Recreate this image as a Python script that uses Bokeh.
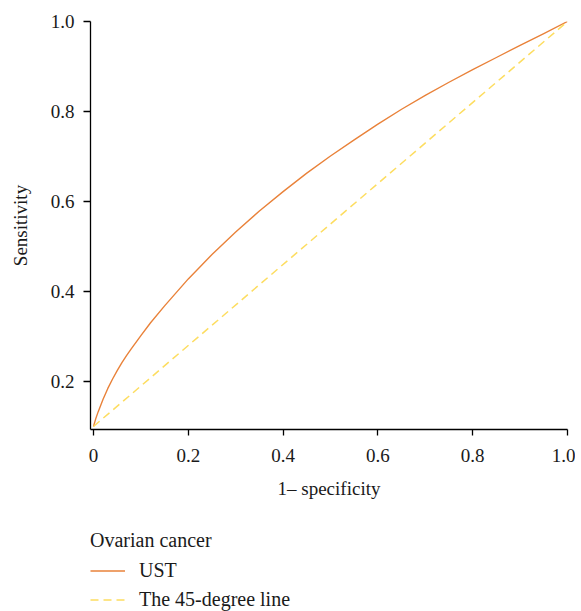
from bokeh.plotting import figure
from bokeh.layouts import column
from bokeh.models import Range1d, FixedTicker, Legend, LegendItem
from bokeh.embed import file_html
from bokeh.resources import INLINE

# ROC curve (UST, ovarian cancer)
fpr = [0.0, 0.005, 0.01, 0.02, 0.03, 0.04, 0.05, 0.06, 0.07, 0.08, 0.10, 0.12,
       0.15, 0.20, 0.25, 0.30, 0.35, 0.40, 0.45, 0.50, 0.55, 0.60, 0.65, 0.70,
       0.75, 0.80, 0.85, 0.90, 0.95, 1.0]
tpr = [0.100, 0.118, 0.133, 0.160, 0.184, 0.205, 0.224, 0.242, 0.258, 0.273,
       0.302, 0.330, 0.368, 0.428, 0.482, 0.532, 0.579, 0.622, 0.663, 0.701,
       0.737, 0.772, 0.805, 0.836, 0.865, 0.893, 0.920, 0.947, 0.973, 1.0]

# reference diagonal
diag_x = [0.0, 1.0]
diag_y = [0.1, 1.0]

x_ticks = [0.0, 0.2, 0.4, 0.6, 0.8, 1.0]
x_tick_labels = ["0", "0.2", "0.4", "0.6", "0.8", "1.0"]
y_ticks = [0.2, 0.4, 0.6, 0.8, 1.0]
y_tick_labels = ["0.2", "0.4", "0.6", "0.8", "1.0"]

legend_title = "Ovarian cancer"
series_names = ["UST", "The 45-degree line"]

FONT = "Liberation Serif"
ORANGE = "#E9823A"
YELLOW = "#FDDD60"
TXT = "#1a1a1a"

# ---- main plot ----
p = figure(width=575, height=510, output_backend="svg", toolbar_location=None,
           x_range=Range1d(-0.0063, 1.0), y_range=Range1d(0.0933, 1.0),
           min_border_left=89, min_border_right=8, min_border_top=21,
           min_border_bottom=81)
p.outline_line_color = None
p.xgrid.visible = False
p.ygrid.visible = False

p.line(fpr, tpr, line_color=ORANGE, line_width=1.4, line_join="round")
p.line(diag_x, diag_y, line_color=YELLOW, line_width=1.5, line_dash="8 5")

for ax in (p.xaxis[0], p.yaxis[0]):
    ax.axis_line_color = "black"
    ax.axis_line_width = 1.3
    ax.major_tick_line_color = "black"
    ax.major_tick_line_width = 1.3
    ax.major_tick_in = 0
    ax.minor_tick_line_color = None
    ax.major_label_text_font = FONT
    ax.major_label_text_font_size = "19px"
    ax.major_label_text_color = TXT
    ax.axis_label_text_font = FONT
    ax.axis_label_text_font_size = "19px"
    ax.axis_label_text_font_style = "normal"
    ax.axis_label_text_color = TXT

p.xaxis.ticker = FixedTicker(ticks=x_ticks)
p.xaxis.major_label_overrides = {t: l for t, l in zip(x_ticks, x_tick_labels)}
p.xaxis.major_tick_out = 6
p.xaxis.major_label_standoff = 13
p.xaxis.axis_label = "1\u2013 specificity"
p.xaxis.axis_label_standoff = 13

p.yaxis.ticker = FixedTicker(ticks=y_ticks)
p.yaxis.major_label_overrides = {t: l for t, l in zip(y_ticks, y_tick_labels)}
p.yaxis.major_tick_out = 7
p.yaxis.major_label_standoff = 9
p.yaxis.major_label_orientation = "horizontal"
p.yaxis.axis_label = "Sensitivity"
p.yaxis.axis_label_standoff = 17

# ---- legend strip (same series, drawn out of view so only the key shows) ----
lg = figure(width=575, height=101, output_backend="svg", toolbar_location=None,
            x_range=Range1d(10, 11), y_range=Range1d(10, 11),
            x_axis_type=None, y_axis_type=None,
            min_border_left=90, min_border_right=0, min_border_top=19,
            min_border_bottom=0)
lg.outline_line_color = None
k1 = lg.line(fpr, tpr, line_color=ORANGE, line_width=1.6)
k2 = lg.line(diag_x, diag_y, line_color=YELLOW, line_width=1.6, line_dash="8 5")

legend = Legend(items=[LegendItem(label=series_names[0], renderers=[k1]),
                       LegendItem(label=series_names[1], renderers=[k2])],
                location="top_left", title=legend_title,
                title_text_font=FONT, title_text_font_size="20px",
                title_text_font_style="normal", title_text_color=TXT,
                title_standoff=7,
                label_text_font=FONT, label_text_font_size="20px",
                label_text_color=TXT,
                glyph_width=35, glyph_height=23, label_height=23,
                label_standoff=14, spacing=6, padding=0, margin=0,
                border_line_color=None, background_fill_alpha=0)
lg.add_layout(legend, "center")

open("out.html", "w").write(file_html(column(p, lg, spacing=0), INLINE))
